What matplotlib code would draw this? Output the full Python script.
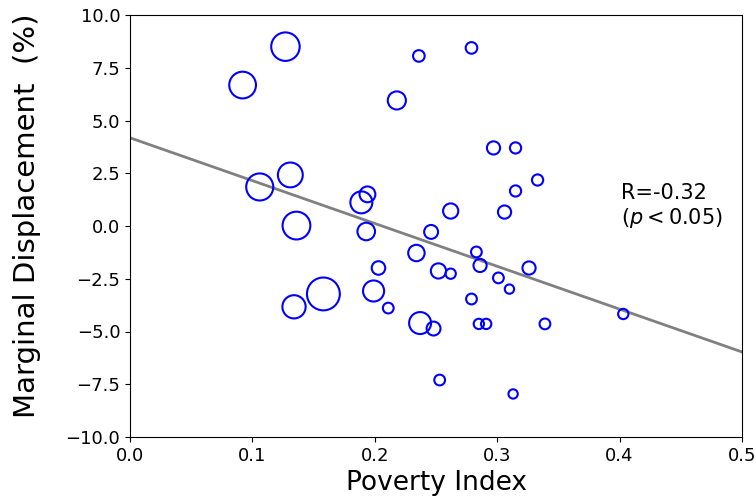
import numpy as np
import matplotlib
matplotlib.use('Agg')
import matplotlib.pyplot as plt

# poverty index vs marginal displacement, marker area ~ weight
poverty = [0.092, 0.127, 0.218, 0.236, 0.279, 0.297, 0.315, 0.315, 0.333, 0.306,
           0.262, 0.106, 0.131, 0.189, 0.194, 0.136, 0.193, 0.246, 0.234, 0.203,
           0.252, 0.262, 0.283, 0.286, 0.301, 0.326, 0.310, 0.279, 0.199, 0.158,
           0.134, 0.211, 0.237, 0.248, 0.285, 0.291, 0.339, 0.403, 0.253, 0.313]
displacement = [6.68, 8.50, 5.95, 8.06, 8.44, 3.70, 3.70, 1.66, 2.18, 0.66,
                0.71, 1.85, 2.42, 1.12, 1.50, 0.02, -0.26, -0.28, -1.28, -1.99,
                -2.13, -2.26, -1.23, -1.87, -2.46, -1.99, -2.99, -3.46, -3.08, -3.22,
                -3.83, -3.89, -4.60, -4.86, -4.64, -4.64, -4.64, -4.17, -7.30, -7.96]
sizes = [370, 420, 170, 70, 70, 90, 65, 65, 65, 90,
         120, 380, 320, 250, 130, 400, 160, 100, 140, 95,
         120, 55, 60, 90, 60, 90, 45, 60, 230, 560,
         280, 60, 250, 100, 55, 55, 60, 55, 60, 45]

fit_intercept = 4.18
fit_slope = -20.3
r_value = -0.32

fig = plt.figure(figsize=(7.56, 5.04), dpi=100)
ax = fig.add_axes([130/756, 1-437/504, 612/756, 422/504])

ax.scatter(poverty, displacement, s=sizes, facecolors='none', edgecolors='blue', linewidths=1.5, zorder=3)

xs = np.array([0.0, 0.5])
ax.plot(xs, fit_intercept + fit_slope*xs, color='gray', linewidth=2, zorder=2)

ax.text(0.4015, -0.2, 'R=%.2f\n($p<0.05$)' % r_value, fontsize=15, va='bottom', ha='left')

ax.set_xlim(0, 0.5)
ax.set_ylim(-10, 10)
ax.set_xticks([0.0, 0.1, 0.2, 0.3, 0.4, 0.5])
ax.set_yticks(np.arange(-10, 10.1, 2.5))
ax.tick_params(labelsize=13)
ax.set_xlabel('Poverty Index', fontsize=19, labelpad=4)
ax.set_ylabel('Marginal Displacement  (%)', fontsize=21)
ax.yaxis.set_label_coords(-0.145, 0.525)

fig.savefig('out.png', dpi=100)
